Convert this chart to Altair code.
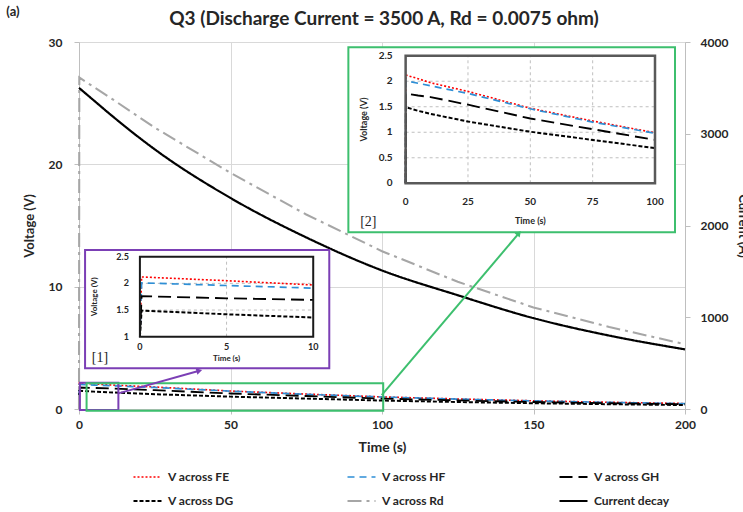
import math
import altair as alt
import pandas as pd

# ---------------- data ----------------
SERIES = ["V across FE", "V across HF", "V across GH",
          "V across DG", "V across Rd", "Current decay"]
TIME = [0, 0.1, 5, 10, 25, 50, 75, 100, 125, 150, 175, 200]
V_FE = [0, 2.12, 2.05, 1.97, 1.80, 1.47, 1.22, 0.99, 0.82, 0.67, 0.55, 0.45]
V_HF = [0, 2.01, 1.96, 1.91, 1.76, 1.46, 1.20, 0.98, 0.81, 0.66, 0.54, 0.44]
V_GH = [0, 1.76, 1.72, 1.69, 1.54, 1.27, 1.06, 0.85, 0.70, 0.57, 0.47, 0.39]
V_DG = [0, 1.49, 1.42, 1.36, 1.21, 1.01, 0.85, 0.69, 0.57, 0.47, 0.39, 0.32]
V_RD = [0, 27.1, 26.3, 25.5, 23.0, 19.3, 15.9, 12.9, 10.4, 8.3, 6.7, 5.3]
TIME_I = [0, 5, 10, 25, 50, 75, 100, 125, 150, 175, 200]
I_DECAY = [3500, 3360, 3220, 2830, 2300, 1870, 1510, 1240, 990, 800, 650]

MAIN_X_TICKS = [0, 50, 100, 150, 200]
MAIN_Y_TICKS = [0, 10, 20, 30]
RIGHT_Y_TICKS = [0, 1000, 2000, 3000, 4000]
IN2_X_TICKS = [0, 25, 50, 75, 100]
IN2_Y_TICKS = [0, 0.5, 1, 1.5, 2, 2.5]
IN1_X_TICKS = [0, 5, 10]
IN1_Y_TICKS = [1, 1.5, 2, 2.5]

TITLE = "Q3 (Discharge Current = 3500 A, Rd  = 0.0075 ohm)"

# ---------------- layout (main-data coordinates / pixels) ----------------
W, H = 606, 367
X_MAX, V_MAX, I_MAX = 200, 30, 4000
PAD = {"left": 79, "top": 42, "right": 743 - 79 - W, "bottom": 512 - 42 - H}


def px(t):
    return t / X_MAX * W


def py(v):
    return H - v / V_MAX * H


# zoom regions drawn on the main plot (main-data coords)
ZOOM_T0 = [0.3, 2.5]
ZOOM_T1 = [13.0, 100.4]
ZOOM_V0 = [-0.08, -0.14]
ZOOM_V1 = [2.15, 2.10]
ZOOM_COL = ["#7b3fb5", "#3dbf6e"]
# inset frames (main-data coords)
BOX_T0 = [2.0, 88.9]
BOX_T1 = [82.6, 196.7]
BOX_V0 = [3.33, 14.45]
BOX_V1 = [13.0, 29.57]
# arrows (main-data coords)
ARR_T0 = [13.0, 99.9]
ARR_V0 = [1.28, 1.14]
ARR_T1 = [39.4, 145.0]
ARR_V1 = [3.11, 14.31]
# inset plot areas (main-data coords)
IN2 = dict(t0=107.8, t1=190.1, v0=18.45, v1=28.88)
IN1 = dict(t0=20.1, t1=77.3, v0=5.91, v1=12.45)

FONT = "Lato"
TXT = "#262626"

# ---------------- frames ----------------
volt = {"V across FE": V_FE, "V across HF": V_HF, "V across GH": V_GH,
        "V across DG": V_DG, "V across Rd": V_RD}
df_v = pd.DataFrame([{"t": t, "v": v, "series": s}
                     for s, vals in volt.items() for t, v in zip(TIME, vals)])
df_i = pd.DataFrame({"t": TIME_I, "v": I_DECAY, "series": "Current decay"})
df_in2 = df_v[(df_v.series != "V across Rd") & (df_v.t <= 100)]
df_in1 = df_v[(df_v.series != "V across Rd") & (df_v.t <= 10)]

# ---------------- shared encodings ----------------
legend = alt.Legend(title=None, orient="none", legendX=53, legendY=427,
                    columns=3, direction="horizontal", columnPadding=112,
                    rowPadding=8, symbolType="stroke", symbolSize=784,
                    symbolStrokeWidth=2, clipHeight=16, labelFont=FONT,
                    labelFontSize=12, labelFontWeight="bold", labelColor=TXT,
                    labelOffset=5, padding=0)
color_scale = alt.Scale(domain=SERIES, range=["#ff0000", "#2e8fd6", "#000000",
                                              "#000000", "#a6a6a6", "#000000"])
dash_scale = alt.Scale(domain=SERIES, range=[[2, 2], [7, 5], [13, 6], [4, 2],
                                             [14, 5, 3, 5], [1, 0]])
width_scale = alt.Scale(domain=SERIES, range=[1.6, 2.2, 2.2, 2.2, 2, 1.4])
color = alt.Color("series:N", scale=color_scale, legend=legend)
dash = alt.StrokeDash("series:N", scale=dash_scale, legend=legend)
swidth = alt.StrokeWidth("series:N", scale=width_scale, legend=None)

x_main_scale = alt.Scale(domain=[0, X_MAX], nice=False, zero=False)
y_main_scale = alt.Scale(domain=[0, V_MAX], nice=False)

axis_common = dict(labelFont=FONT, labelFontWeight="bold", labelColor=TXT,
                   titleFont=FONT, titleFontWeight="bold", titleColor=TXT,
                   domainColor="#bfbfbf", tickColor="#bfbfbf", tickSize=5,
                   labelFlush=False, format="d")

x_axis = alt.Axis(orient="bottom", values=MAIN_X_TICKS, title="Time (s)",
                  grid=True, gridColor="#d9d9d9", labelFontSize=12,
                  labelPadding=5, titleFontSize=14, titlePadding=10,
                  **axis_common)
y_axis = alt.Axis(orient="left", values=MAIN_Y_TICKS, title="Voltage (V)",
                  grid=True, gridColor="#d9d9d9", labelFontSize=12,
                  labelPadding=12, titleFontSize=13, titlePadding=12,
                  **axis_common)
y_right_axis = alt.Axis(orient="right", values=RIGHT_Y_TICKS, title="Current (A)",
                        grid=False, labelFontSize=12, labelPadding=10,
                        titleFontSize=13, titlePadding=8, **axis_common)

main_v = alt.Chart(df_v).mark_line().encode(
    x=alt.X("t:Q", scale=x_main_scale, axis=x_axis),
    y=alt.Y("v:Q", scale=y_main_scale, axis=y_axis),
    color=color, strokeDash=dash, strokeWidth=swidth,
)

current = alt.Chart(df_i).mark_line(interpolate="monotone").encode(
    x=alt.X("t:Q", scale=x_main_scale, axis=None),
    y=alt.Y("v:Q", scale=alt.Scale(domain=[0, I_MAX], nice=False), axis=y_right_axis),
    color=color, strokeDash=dash, strokeWidth=swidth,
)

# ---------------- annotations in main coords ----------------
xa = alt.X("t0:Q", scale=x_main_scale, axis=None)
ya = alt.Y("v0:Q", scale=y_main_scale, axis=None)

df_box = pd.DataFrame({"t0": BOX_T0, "t1": BOX_T1, "v0": BOX_V0, "v1": BOX_V1, "c": ZOOM_COL})
df_zoom = pd.DataFrame({"t0": ZOOM_T0, "t1": ZOOM_T1, "v0": ZOOM_V0, "v1": ZOOM_V1, "c": ZOOM_COL})
angles = []
for a0, b0, a1, b1 in zip(ARR_T0, ARR_V0, ARR_T1, ARR_V1):
    dx, dy = px(a1) - px(a0), py(b1) - py(b0)
    angles.append(math.degrees(math.atan2(dx, -dy)) % 360)
df_arr = pd.DataFrame({"t0": ARR_T0, "v0": ARR_V0, "t1": ARR_T1, "v1": ARR_V1,
                       "c": ZOOM_COL, "ang": angles})

boxes = alt.Chart(df_box).mark_rect(fill="white", strokeWidth=2).encode(
    x=xa, x2="t1:Q", y=ya, y2="v1:Q", stroke=alt.Stroke("c:N", scale=None))
zooms = alt.Chart(df_zoom).mark_rect(fillOpacity=0, strokeWidth=2).encode(
    x=xa, x2="t1:Q", y=ya, y2="v1:Q", stroke=alt.Stroke("c:N", scale=None))
arrows = alt.Chart(df_arr).mark_rule(strokeWidth=2).encode(
    x=xa, x2="t1:Q", y=ya, y2="v1:Q", color=alt.Color("c:N", scale=None, legend=None))
heads = alt.Chart(df_arr).mark_point(shape="triangle", filled=True, size=45, opacity=1).encode(
    x=alt.X("t1:Q", scale=x_main_scale, axis=None),
    y=alt.Y("v1:Q", scale=y_main_scale, axis=None),
    angle=alt.Angle("ang:Q", scale=None),
    color=alt.Color("c:N", scale=None, legend=None))
df_lab = pd.DataFrame({"t0": [6.9, 95.5], "v0": [4.14, 15.3], "txt": ["[1]", "[2]"]})
labels = alt.Chart(df_lab).mark_text(font="Liberation Serif", fontSize=14,
                                     color=TXT, align="center", baseline="middle").encode(
    x=xa, y=ya, text="txt:N")
one = pd.DataFrame({"k": [0]})
title = alt.Chart(one).mark_text(font=FONT, fontSize=19, fontWeight="bold", color=TXT,
                                 align="center", baseline="middle").encode(
    x=alt.value(W / 2 + 2), y=alt.value(-23), text=alt.value(TITLE))
tag = alt.Chart(one).mark_text(font=FONT, fontSize=13, fontWeight="bold", color=TXT,
                               align="center", baseline="middle").encode(
    x=alt.value(-66), y=alt.value(-30), text=alt.value("(a)"))
annot = alt.layer(boxes, zooms, arrows, heads, labels, title, tag)


# ---------------- insets ----------------
def inset(df, area, xdom, ydom, xt, yt, gx, gy, border_w, border_c,
          fs, tfs, lab_dy, title_dy, lab_dx, title_dx):
    xs = alt.Scale(domain=xdom, range=[px(area["t0"]), px(area["t1"])], nice=False, zero=False)
    ys = alt.Scale(domain=ydom, range=[py(area["v0"]), py(area["v1"])], nice=False,
                   zero=False, clamp=True)
    X = lambda f: alt.X(f, scale=xs, axis=None)
    Y = lambda f: alt.Y(f, scale=ys, axis=None)
    grid_rows = [{"a": g, "a2": g, "b": ydom[0], "b2": ydom[1]} for g in gx] + \
                [{"a": xdom[0], "a2": xdom[1], "b": g, "b2": g} for g in gy]
    grid = alt.Chart(pd.DataFrame(grid_rows)).mark_rule(
        color="#bfbfbf", strokeDash=[3, 3], strokeWidth=1).encode(
        x=X("a:Q"), x2="a2:Q", y=Y("b:Q"), y2="b2:Q")
    lines = alt.Chart(df).mark_line().encode(
        x=X("t:Q"), y=Y("v:Q"), color=color, strokeDash=dash, strokeWidth=swidth)
    border = alt.Chart(pd.DataFrame({"a": [xdom[0]], "a2": [xdom[1]],
                                     "b": [ydom[0]], "b2": [ydom[1]]})).mark_rect(
        fillOpacity=0, stroke=border_c, strokeWidth=border_w).encode(
        x=X("a:Q"), x2="a2:Q", y=Y("b:Q"), y2="b2:Q")
    txt = dict(font=FONT, fontWeight="bold", color=TXT)
    xlab = alt.Chart(pd.DataFrame({"a": xt, "b": ydom[0], "s": [f"{v:g}" for v in xt]})).mark_text(
        fontSize=fs, align="center", baseline="middle", dy=lab_dy, **txt).encode(
        x=X("a:Q"), y=Y("b:Q"), text="s:N")
    ylab = alt.Chart(pd.DataFrame({"a": xdom[0], "b": yt, "s": [f"{v:g}" for v in yt]})).mark_text(
        fontSize=fs, align="right", baseline="middle", dx=-lab_dx, **txt).encode(
        x=X("a:Q"), y=Y("b:Q"), text="s:N")
    xtit = alt.Chart(pd.DataFrame({"a": [(xdom[0] + xdom[1]) / 2], "b": [ydom[0]]})).mark_text(
        fontSize=tfs, align="center", baseline="middle", dy=title_dy, **txt).encode(
        x=X("a:Q"), y=Y("b:Q"), text=alt.value("Time (s)"))
    ytit = alt.Chart(pd.DataFrame({"a": [xdom[0]], "b": [(ydom[0] + ydom[1]) / 2]})).mark_text(
        fontSize=tfs, align="center", baseline="middle", angle=270, dy=-title_dx, **txt).encode(
        x=X("a:Q"), y=Y("b:Q"), text=alt.value("Voltage (V)"))
    return alt.layer(grid, lines, border, xlab, ylab, xtit, ytit)


inset2 = inset(df_in2, IN2, [0, 100], [0, 2.5], IN2_X_TICKS, IN2_Y_TICKS,
               [25, 50, 75], [0.5, 1, 1.5, 2], 2.5, "#595959", 10, 9, 19, 38, 13, 42)
inset1 = inset(df_in1, IN1, [0, 10], [1, 2.5], IN1_X_TICKS, IN1_Y_TICKS,
               [5], [1.5, 2], 2, "#1a1a1a", 9, 8, 10, 22, 11, 45)

chart = alt.layer(main_v, current, annot, inset2, inset1).resolve_scale(
    x="independent", y="independent"
).resolve_axis(x="independent", y="independent").properties(
    width=W, height=H, padding=PAD,
    autosize=alt.AutoSizeParams(type="none"),
).configure_view(stroke=None)

chart.save("out.html", embed_options={"renderer": "svg", "actions": False})
